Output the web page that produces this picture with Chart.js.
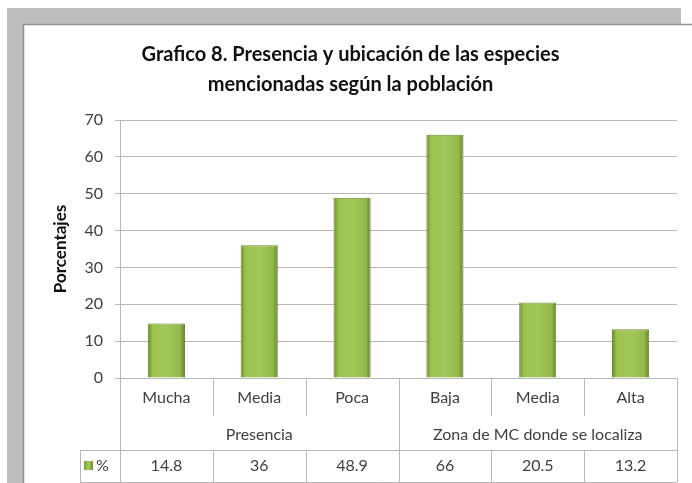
<!DOCTYPE html>
<html>
<head>
<meta charset="utf-8">
<script src="https://cdn.jsdelivr.net/npm/chart.js@4.4.0/dist/chart.umd.min.js"></script>
<style>
  html, body { margin: 0; padding: 0; background: #fff; }
  #wrap { width: 692px; height: 483px; }
</style>
</head>
<body>
<div id="wrap"><canvas id="myChart" width="692" height="483"></canvas></div>
<script>
// data
var categories = ['Mucha', 'Media', 'Poca', 'Baja', 'Media', 'Alta'];
var groups = ['Presencia', 'Zona de MC donde se localiza'];
var groupSizes = [3, 3];
var seriesName = '%';
var values = [14.8, 36, 48.9, 66, 20.5, 13.2];
var yTicks = [0, 10, 20, 30, 40, 50, 60, 70];

var FONT = 'Lato, "Open Sans", sans-serif';
var TEXT = '#404040';
var LINE = '#b8b8b8';
var BAR_PCT = 0.4;

function barFill(c) {
  var chart = c.chart, x = chart.scales.x;
  if (!x || !chart.chartArea || c.dataIndex === undefined) return '#9bbb59';
  var cx = x.getPixelForValue(c.dataIndex);
  var w = (x.width / categories.length) * BAR_PCT;
  var g = chart.ctx.createLinearGradient(cx - w / 2, 0, cx + w / 2, 0);
  g.addColorStop(0, '#6b8b2c');
  g.addColorStop(0.13, '#9cc24f');
  g.addColorStop(0.5, '#a3c85a');
  g.addColorStop(0.87, '#93b74a');
  g.addColorStop(1, '#62822a');
  return g;
}

// grey frame / shadow behind the white chart box
var framePlugin = {
  id: 'frame',
  beforeDraw: function (chart) {
    var ctx = chart.ctx;
    ctx.save();
    ctx.fillStyle = '#fff';
    ctx.fillRect(0, 0, chart.width, chart.height);
    ctx.fillStyle = '#bdbdbd';
    ctx.fillRect(7, 8, 674, 16);
    ctx.fillRect(7, 8, 16, chart.height - 8);
    ctx.strokeStyle = '#8f8f8f';
    ctx.lineWidth = 1.5;
    ctx.beginPath();
    ctx.moveTo(23.5, chart.height);
    ctx.lineTo(23.5, 24.5);
    ctx.lineTo(chart.width, 24.5);
    ctx.stroke();
    ctx.restore();
  }
};

// multi-level category labels and the data table under the axis
var tablePlugin = {
  id: 'dataTable',
  afterDraw: function (chart) {
    var ctx = chart.ctx, x = chart.scales.x, area = chart.chartArea;
    var n = categories.length, cw = x.width / n;
    var y0 = area.bottom, yMid = 416, yTop = 450, yBot = 482, xLeft = 80;
    ctx.save();
    ctx.strokeStyle = LINE;
    ctx.lineWidth = 1;
    // dividers
    var starts = [0];
    groupSizes.forEach(function (s) { starts.push(starts[starts.length - 1] + s); });
    for (var i = 0; i <= n; i++) {
      var bx = Math.round(x.left + i * cw) + 0.5;
      var full = starts.indexOf(i) >= 0;
      ctx.beginPath();
      ctx.moveTo(bx, y0);
      ctx.lineTo(bx, full ? yBot : yMid);
      ctx.stroke();
      if (!full) {
        ctx.beginPath();
        ctx.moveTo(bx, yTop);
        ctx.lineTo(bx, yBot);
        ctx.stroke();
      }
    }
    ctx.beginPath();
    ctx.moveTo(xLeft, yTop + 0.5); ctx.lineTo(x.right, yTop + 0.5);
    ctx.moveTo(xLeft, yBot + 0.5); ctx.lineTo(x.right, yBot + 0.5);
    ctx.moveTo(xLeft + 0.5, yTop); ctx.lineTo(xLeft + 0.5, yBot);
    ctx.stroke();

    ctx.fillStyle = TEXT;
    ctx.font = '16px ' + FONT;
    ctx.textAlign = 'center';
    ctx.textBaseline = 'middle';
    categories.forEach(function (c, i) {
      ctx.fillText(c, x.getPixelForValue(i), 398);
      ctx.fillText(String(values[i]), x.getPixelForValue(i), 466);
    });
    groups.forEach(function (g, k) {
      var gx = x.left + (starts[k] + starts[k + 1]) / 2 * cw;
      ctx.fillText(g, gx, 435);
    });
    // legend key
    var kg = ctx.createLinearGradient(84, 0, 93, 0);
    kg.addColorStop(0, '#7a9a34');
    kg.addColorStop(0.5, '#a6cb5c');
    kg.addColorStop(1, '#6e8e2e');
    ctx.fillStyle = kg;
    ctx.fillRect(84, 461, 9, 9);
    ctx.fillStyle = TEXT;
    ctx.textAlign = 'left';
    ctx.fillText(seriesName, 96, 466);
    ctx.restore();
  }
};

var ctx = document.getElementById('myChart');
var myChart = new Chart(ctx, {
  type: 'bar',
  data: {
    labels: categories,
    datasets: [{
      label: seriesName,
      data: values,
      backgroundColor: barFill,
      borderColor: '#6a892d',
      borderWidth: 1,
      barPercentage: BAR_PCT,
      categoryPercentage: 1
    }]
  },
  options: {
    responsive: false,
    animation: false,
    layout: { padding: { left: 24, right: 15, top: 25, bottom: 105 } },
    plugins: {
      legend: { display: false },
      tooltip: { enabled: false },
      title: {
        display: true,
        text: ['Grafico 8. Presencia y ubicación de las especies', 'mencionadas según la población'],
        color: '#111',
        font: { family: FONT, size: 20, weight: 'bold', lineHeight: 1.5 },
        padding: { top: 15, bottom: 20 }
      }
    },
    scales: {
      x: {
        ticks: { display: false },
        grid: { display: false },
        border: { display: true, color: LINE },
        afterFit: function (s) { s.height = 0; }
      },
      y: {
        min: yTicks[0],
        max: yTicks[yTicks.length - 1],
        ticks: { stepSize: 10, color: TEXT, font: { family: FONT, size: 16 }, padding: 12 },
        grid: { color: LINE, tickLength: 5 },
        border: { color: LINE },
        title: {
          display: true,
          text: 'Porcentajes',
          color: '#111',
          font: { family: FONT, size: 17, weight: 'bold' },
          padding: { top: 26, bottom: 0 }
        },
        afterFit: function (s) { s.width = 96; }
      }
    }
  },
  plugins: [framePlugin, tablePlugin]
});
</script>
</body>
</html>
